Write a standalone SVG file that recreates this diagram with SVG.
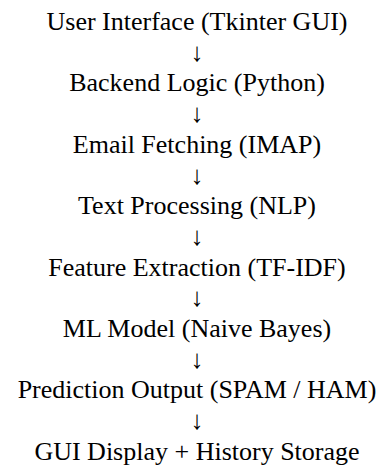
<svg xmlns="http://www.w3.org/2000/svg" width="384" height="469" viewBox="0 0 384 469">
<rect width="384" height="469" fill="#ffffff"/>
<g id="n1"><text x="197" y="30" font-family="Times New Roman" font-size="26" fill="#000000" text-anchor="middle">User Interface (Tkinter GUI)</text></g>
<g id="n2"><text x="197" y="91" font-family="Times New Roman" font-size="26" fill="#000000" text-anchor="middle">Backend Logic (Python)</text></g>
<g id="n3"><text x="197" y="153" font-family="Times New Roman" font-size="26" fill="#000000" text-anchor="middle">Email Fetching (IMAP)</text></g>
<g id="n4"><text x="197" y="214" font-family="Times New Roman" font-size="26" fill="#000000" text-anchor="middle">Text Processing (NLP)</text></g>
<g id="n5"><text x="197" y="276" font-family="Times New Roman" font-size="26" fill="#000000" text-anchor="middle">Feature Extraction (TF-IDF)</text></g>
<g id="n6"><text x="197" y="337" font-family="Times New Roman" font-size="26" fill="#000000" text-anchor="middle">ML Model (Naive Bayes)</text></g>
<g id="n7"><text x="197" y="398" font-family="Times New Roman" font-size="26" fill="#000000" text-anchor="middle">Prediction Output (SPAM / HAM)</text></g>
<g id="n8"><text x="197" y="460" font-family="Times New Roman" font-size="26" fill="#000000" text-anchor="middle">GUI Display + History Storage</text></g>
<g id="connectors">
<text x="197" y="61" font-family="Times New Roman" font-size="26" fill="#000000" text-anchor="middle">↓</text>
<text x="197" y="122" font-family="Times New Roman" font-size="26" fill="#000000" text-anchor="middle">↓</text>
<text x="197" y="184" font-family="Times New Roman" font-size="26" fill="#000000" text-anchor="middle">↓</text>
<text x="197" y="245" font-family="Times New Roman" font-size="26" fill="#000000" text-anchor="middle">↓</text>
<text x="197" y="306" font-family="Times New Roman" font-size="26" fill="#000000" text-anchor="middle">↓</text>
<text x="197" y="368" font-family="Times New Roman" font-size="26" fill="#000000" text-anchor="middle">↓</text>
<text x="197" y="429" font-family="Times New Roman" font-size="26" fill="#000000" text-anchor="middle">↓</text>
</g>
</svg>
